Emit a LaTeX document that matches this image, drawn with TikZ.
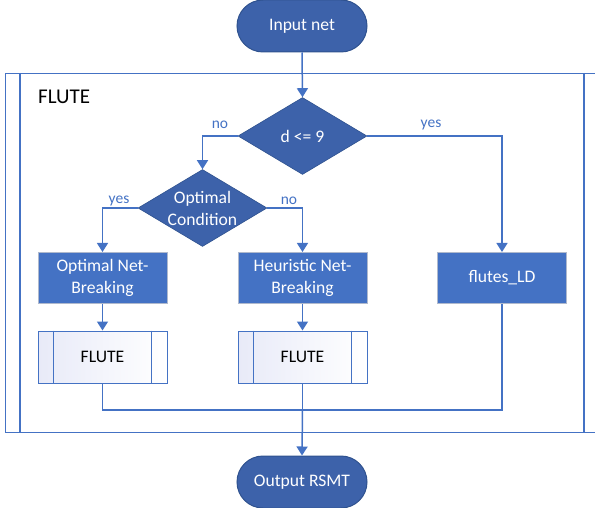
\documentclass[tikz,border=0pt]{standalone}
\usepackage{fontspec}
\setmainfont{Carlito}
\usetikzlibrary{shapes.geometric,shapes.misc,arrows.meta,calc}
\definecolor{termfill}{RGB}{61,98,170}
\definecolor{termedge}{RGB}{47,82,143}
\definecolor{boxfill}{RGB}{68,114,196}
\definecolor{boxedge}{RGB}{175,185,205}
\definecolor{linkblue}{RGB}{68,114,196}
\definecolor{subshade}{RGB}{232,234,248}
\begin{document}
\begin{tikzpicture}[x=1pt,y=-1pt,
  txt/.style={font=\fontsize{17.6}{22}\selectfont, align=center},
  term/.style={rounded rectangle, draw=termedge, line width=1pt, fill=termfill,
    text=white, txt, minimum width=130pt, minimum height=52pt, inner sep=0pt},
  decision/.style={diamond, draw=termedge, line width=0.6pt, fill=termfill,
    minimum width=129pt, minimum height=77pt, inner sep=0pt, aspect=1.67},
  dtext/.style={text=white, txt, inner sep=0pt},
  proc/.style={rectangle, draw=boxedge, line width=1pt, fill=boxfill, text=white, txt,
    minimum width=129pt, minimum height=51pt, inner sep=0pt},
  subproc/.style={rectangle, draw=linkblue, line width=1pt, left color=subshade,
    right color=white, text=black, txt, minimum width=129pt, minimum height=52pt, inner sep=0pt},
  frameline/.style={draw=linkblue, line width=1.2pt},
  link/.style={draw=linkblue, line width=1.5pt},
  arrow/.style={link, -{Triangle[width=11pt,length=9pt]}},
  lbl/.style={text=linkblue, font=\fontsize{15.5}{18}\selectfont, inner sep=0pt}
]
\useasboundingbox (0,0) rectangle (595,508);

% outer predefined-process frame
\node[frameline, rectangle, minimum width=600pt, minimum height=359pt,
  anchor=north west, inner sep=0pt] (frame) at (5,73) {};
\draw[frameline] ($(frame.north west)+(15,0)$) -- ($(frame.south west)+(15,0)$);
\draw[frameline] (584,73) -- (584,432);
\node[font=\fontsize{21}{24}\selectfont, anchor=west, inner sep=0pt] (framelabel) at (38,97) {FLUTE};

% nodes
\node[term] (in) at (302,26) {Input net};
\node[decision] (d9) at (302.5,136) {};
\node[dtext] (d9t) at (d9) {d <= 9};
\node[decision] (oc) at (202.5,208) {};
\node[dtext] (oct) at (202.5,208) {Optimal\\Condition};
\node[proc] (onb) at (102.5,278) {Optimal Net-\\Breaking};
\node[proc] (hnb) at (302.5,278) {Heuristic Net-\\Breaking};
\node[proc] (ld) at (502,278) {flutes\_LD};
\node[subproc] (f1) at (102.5,357) {FLUTE};
\node[subproc] (f2) at (302.5,357) {FLUTE};
\foreach \b in {f1,f2}{
  \draw[link, line width=1pt] ($(\b.north west)+(16,0)$) -- ($(\b.south west)+(16,0)$);
  \draw[link, line width=1pt] ($(\b.north east)+(-16,0)$) -- ($(\b.south east)+(-16,0)$);
}
\node[term] (out) at (302,482) {Output RSMT};
\coordinate (join) at (302.5,410);

% connectors
\draw[arrow] (in.south) -- (d9.north);
\draw[arrow] (d9.west) -| (oc.north);
\draw[arrow] (d9.east) -| (ld.north);
\draw[arrow] (oc.west) -| (onb.north);
\draw[arrow] (oc.east) -| (hnb.north);
\draw[arrow] (onb.south) -- (f1.north);
\draw[arrow] (hnb.south) -- (f2.north);
\draw[link] (f1.south) |- (join);
\draw[link] (ld.south) |- (join);
\draw[link] (f2.south) -- (join);
\draw[arrow] (join) -- (out.north);

% branch labels
\node[lbl] (l1) at (220,125) {no};
\node[lbl] (l2) at (431,125) {yes};
\node[lbl] (l3) at (119,201) {yes};
\node[lbl] (l4) at (289,201) {no};
\end{tikzpicture}
\end{document}
